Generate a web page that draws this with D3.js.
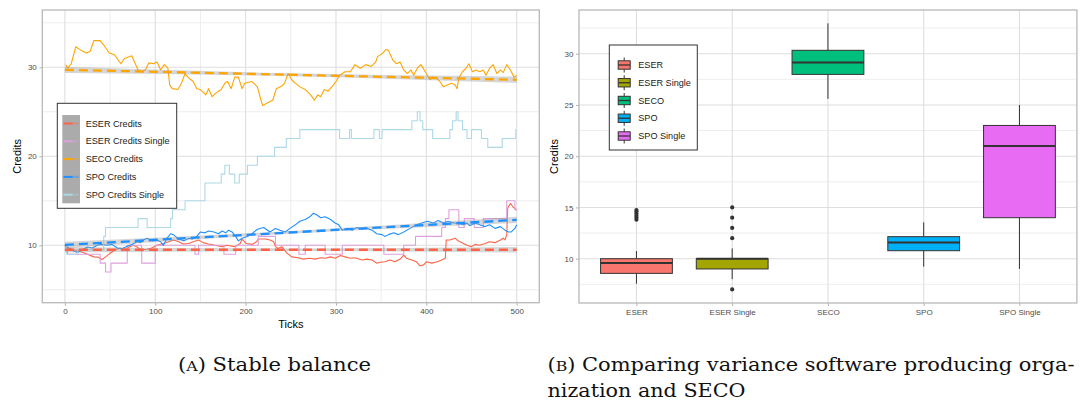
<!DOCTYPE html>
<html><head><meta charset="utf-8">
<script src="https://cdn.jsdelivr.net/npm/d3@7"></script>
<style>body{margin:0;background:#fff} svg{display:block}</style>
</head><body>
<svg id="c" width="1080" height="406"></svg>
<script>
// ---------------- DATA (panel A: time series, [tick, credits]) ----------------
const seriesNames = ["ESER Credits","ESER Credits Single","SECO Credits","SPO Credits","SPO Credits Single"];
const seriesColors = ["#FF6347","#DDA0DD","#FFA500","#1E90FF","#ADD8E6"];
const xTicksA = [0,100,200,300,400,500];
const yTicksA = [10,20,30];

const eserCredits = [[0,10.0],[4,9.7],[10,9.5],[17,9.3],[25,9.0],[32,8.7],[37,8.65],[41,8.4],[45,8.7],[50,9.1],[56,9.5],[61,9.7],[67,9.55],[71,9.8],[76,10.0],[80,9.8],[84,9.5],[91,9.55],[96,9.7],[102,10.0],[109,10.2],[115,10.4],[120,10.6],[126,10.4],[131,10.15],[137,10.2],[142,10.4],[148,10.6],[153,10.3],[159,10.15],[166,10.0],[174,9.85],[179,10.0],[188,9.85],[194,10.2],[196,10.7],[201,10.2],[207,10.1],[212,10.4],[214,10.7],[222,10.7],[227,10.6],[231,10.4],[233,9.85],[236,9.65],[240,9.85],[246,9.1],[251,8.7],[258,8.6],[264,8.45],[271,8.55],[277,8.45],[283,8.6],[288,8.55],[294,8.7],[299,8.55],[305,8.85],[310,8.7],[316,8.55],[321,8.6],[329,8.35],[334,8.45],[340,8.35],[345,8.0],[349,8.1],[354,8.15],[360,8.35],[365,8.15],[371,8.45],[375,8.9],[378,8.55],[384,8.35],[389,8.15],[393,7.7],[397,7.8],[400,8.15],[406,8.0],[412,8.15],[417,8.35],[421,8.55],[422,10.6],[426,10.6],[432,10.8],[435,10.5],[441,10.2],[445,10.0],[450,9.85],[454,10.1],[459,10.0],[465,10.2],[470,10.4],[476,10.3],[482,10.6],[485,10.8],[487,10.6],[489,11.2],[490,14.2],[493,14.7],[496,14.3],[500,13.95]];

const eserCreditsSingle = [[0,10],[3,9],[39,8],[45,7],[51,8],[69,10],[85,8],[100,10],[144,9],[148,10],[176,9],[189,10],[214,11],[233,10],[259,9],[266,10],[288,9],[307,10],[353,9],[375,10],[388,11],[417,12],[421,13],[425,14],[436,12],[442,13],[453,12],[463,13],[489,15],[498,14],[500,14]];

const secoCredits = [[1,30.3],[3,29.9],[7,30.4],[12,32.3],[18,31.9],[24,31.6],[28,31.8],[32,33.0],[39,33.0],[43,32.5],[49,31.6],[55,31.4],[62,30.4],[66,31.0],[74,31.3],[77,30.6],[81,29.7],[85,29.5],[89,29.7],[93,30.5],[98,30.4],[102,30.6],[106,29.7],[110,30.3],[114,29.9],[116,28.0],[119,27.6],[125,27.5],[129,28.2],[133,29.3],[137,28.8],[142,28.4],[146,27.6],[150,27.5],[156,26.9],[159,27.6],[163,26.7],[167,27.1],[173,27.5],[177,28.2],[180,28.4],[184,27.6],[188,28.9],[192,28.9],[196,27.6],[199,28.2],[207,28.4],[213,27.8],[217,26.3],[219,25.7],[224,26.0],[230,26.3],[234,27.6],[240,27.9],[243,28.2],[247,29.3],[251,28.6],[255,28.2],[260,27.8],[266,27.5],[272,26.9],[276,26.3],[280,26.9],[283,26.7],[287,27.5],[291,27.3],[297,28.0],[300,28.4],[304,29.1],[310,29.5],[316,29.5],[321,30.3],[327,29.9],[333,30.3],[339,30.1],[344,30.6],[346,31.2],[352,31.6],[355,32.0],[358,31.9],[363,30.8],[367,30.4],[371,30.6],[375,29.7],[379,29.3],[383,29.7],[386,29.1],[390,29.9],[394,30.3],[400,29.3],[404,28.6],[407,28.9],[411,28.8],[415,28.4],[419,27.8],[423,28.0],[428,28.2],[432,28.0],[434,27.6],[436,28.8],[440,29.5],[444,29.9],[447,30.4],[451,29.5],[455,29.7],[459,29.5],[463,29.7],[466,29.1],[470,29.9],[474,30.3],[478,29.3],[482,29.7],[485,29.4],[489,30.3],[493,29.7],[497,28.9],[500,29.1]];

const spoCredits = [[0,10.0],[6,9.5],[14,9.2],[19,9.5],[25,9.8],[30,9.7],[36,10.0],[39,10.1],[47,10.0],[52,10.1],[58,9.7],[63,9.6],[69,9.9],[74,10.1],[80,10.4],[84,10.3],[87,10.6],[91,10.8],[97,10.5],[102,10.6],[106,10.4],[109,10.0],[113,10.8],[117,11.3],[120,11.2],[126,10.7],[132,10.5],[137,10.8],[141,10.7],[146,11.0],[150,11.5],[155,11.4],[159,11.6],[165,11.5],[170,11.3],[174,11.6],[178,11.4],[181,11.7],[185,11.5],[189,11.0],[192,10.5],[196,10.8],[202,11.0],[207,11.3],[213,11.8],[220,12.0],[227,11.5],[233,11.9],[238,11.7],[244,11.5],[249,11.9],[255,12.3],[260,12.7],[266,12.9],[271,13.2],[275,13.6],[279,13.4],[283,13.1],[288,13.2],[294,12.9],[299,12.5],[303,12.3],[307,11.7],[312,11.9],[318,11.7],[323,12.0],[329,11.8],[334,11.9],[340,11.7],[345,11.3],[351,11.2],[354,11.0],[358,11.2],[364,11.4],[369,11.2],[375,11.5],[382,11.9],[389,12.3],[395,12.5],[401,12.7],[408,12.5],[413,12.8],[419,12.5],[424,12.7],[430,12.5],[435,12.5],[441,12.3],[445,12.5],[448,12.2],[454,12.5],[459,12.3],[465,12.1],[470,12.3],[476,11.9],[482,12.1],[487,11.7],[491,11.5],[494,11.5],[498,11.9],[500,12.3]];

const spoCreditsSingle = [[0,10],[2,9],[14,9.5],[43,11],[45,12],[81,13],[91,12],[117,13],[119,14],[133,15],[155,17],[173,18],[177,19],[182,18],[188,17],[193,18],[202,19],[213,20],[232,21],[245,22],[260,23],[304,22],[315,23],[317,22],[342,23],[348,22],[351,23],[384,24],[390,25],[393,24],[396,23],[407,22],[426,23],[429,24],[433,25],[435,24],[440,23],[445,22],[450,23],[461,22],[468,21],[484,22],[499,23],[500,23]];

// linear-fit trend lines: [series index, value at tick 0, value at tick 500]
const trendIndex = [0,2,3];
const trendStart = [9.5,29.72,10.05];
const trendEnd   = [9.5,28.6,12.85];
const trendSeEnd = [0.32,0.35,0.35];
const trendSeMid = [0.15,0.16,0.16];

// ---------------- DATA (panel B: boxplots) ----------------
const boxCats   = ["ESER","ESER Single","SECO","SPO","SPO Single"];
const boxColors = ["#F8766D","#A3A500","#00BF7D","#00B0F6","#E76BF3"];
const boxLow    = [7.56,8.0,25.6,9.22,9.0];
const boxQ1     = [8.57,9.0,27.98,10.78,14.0];
const boxMed    = [9.58,10.0,29.15,11.59,21.0];
const boxQ3     = [10.0,10.0,30.33,12.15,23.0];
const boxHigh   = [10.75,11.0,32.96,13.55,25.0];
const boxOutliers = [[13.8,14.0,14.2,14.4,14.6,14.75],[15,14,13,12,7],[],[],[]];
const yTicksB = [10,15,20,25,30];

// ---------------- DRAWING ----------------
const svg = d3.select('#c');
const SANS = "'Liberation Sans', Arial, Helvetica, sans-serif";
const SERIF = "'DejaVu Serif', serif";
svg.append('rect').attr('width',1080).attr('height',406).attr('fill','#fff');

function grid(g, P, xs, xsMinor, ys, ysMinor, xScale, yScale){
  g.append('rect').attr('x',P.x0).attr('y',P.y0).attr('width',P.x1-P.x0).attr('height',P.y1-P.y0).attr('fill','#fff');
  g.selectAll('.hmin').data(ysMinor).join('line').attr('x1',P.x0).attr('x2',P.x1)
    .attr('y1',d=>yScale(d)).attr('y2',d=>yScale(d)).attr('stroke','#ebebeb').attr('stroke-width',0.9);
  g.selectAll('.vmin').data(xsMinor).join('line').attr('y1',P.y0).attr('y2',P.y1)
    .attr('x1',d=>xScale(d)).attr('x2',d=>xScale(d)).attr('stroke','#ebebeb').attr('stroke-width',0.9);
  g.selectAll('.hmaj').data(ys).join('line').attr('x1',P.x0).attr('x2',P.x1)
    .attr('y1',d=>yScale(d)).attr('y2',d=>yScale(d)).attr('stroke','#dedede').attr('stroke-width',1.1);
  g.selectAll('.vmaj').data(xs).join('line').attr('y1',P.y0).attr('y2',P.y1)
    .attr('x1',d=>xScale(d)).attr('x2',d=>xScale(d)).attr('stroke','#dedede').attr('stroke-width',1.1);
}
function axes(g, P, xs, ys, xScale, yScale, xFmt){
  const xa = g.append('g').attr('transform',`translate(0,${P.y1})`)
    .call(d3.axisBottom(xScale).tickValues(xs).tickSize(3).tickPadding(3).tickFormat(xFmt));
  const ya = g.append('g').attr('transform',`translate(${P.x0},0)`)
    .call(d3.axisLeft(yScale).tickValues(ys).tickSize(3).tickPadding(2.5));
  [xa,ya].forEach(a=>{
    a.select('.domain').remove();
    a.selectAll('line').attr('stroke','#b3b3b3').attr('stroke-width',1);
    a.selectAll('text').attr('fill','#4d4d4d').style('font-family',SANS).style('font-size','8px');
  });
  g.append('rect').attr('x',P.x0).attr('y',P.y0).attr('width',P.x1-P.x0).attr('height',P.y1-P.y0)
    .attr('fill','none').attr('stroke','#b8b8b8').attr('stroke-width',1.3);
}

// ---- Panel A ----
const A = {x0:42.3, x1:539.3, y0:10, y1:302.7};
const xA = d3.scaleLinear().domain([-25,525]).range([A.x0,A.x1]);
const yA = d3.scaleLinear().domain([3.551,36.438]).range([A.y1,A.y0]);
const gA = svg.append('g');
grid(gA, A, xTicksA, [50,150,250,350,450], yTicksA, [5,15,25,35], xA, yA);

svg.append('clipPath').attr('id','clipA').append('rect')
  .attr('x',A.x0).attr('y',A.y0).attr('width',A.x1-A.x0).attr('height',A.y1-A.y0);
const plotA = gA.append('g').attr('clip-path','url(#clipA)');

const seriesData = [eserCredits, eserCreditsSingle, secoCredits, spoCredits, spoCreditsSingle];
const stepped = [false,true,false,false,true];
seriesData.forEach((s,i)=>{
  const line = d3.line().x(d=>xA(d[0])).y(d=>yA(d[1])).curve(stepped[i]?d3.curveStepAfter:d3.curveLinear);
  plotA.append('path').datum(s).attr('d',line).attr('fill','none')
    .attr('stroke',seriesColors[i]).attr('stroke-width',1.1).attr('stroke-linejoin','round');
});
// trend ribbons + dashed fits
trendIndex.forEach((si,k)=>{
  const pts = [0,250,500].map(t=>{
    const v = trendStart[k] + (trendEnd[k]-trendStart[k])*t/500;
    const se = t===250 ? trendSeMid[k] : trendSeEnd[k];
    return {t, v, se};
  });
  const area = d3.area().x(d=>xA(d.t)).y0(d=>yA(d.v-d.se)).y1(d=>yA(d.v+d.se)).curve(d3.curveMonotoneX);
  plotA.append('path').datum(pts).attr('d',area).attr('fill','#999').attr('fill-opacity',0.4);
});
trendIndex.forEach((si,k)=>{
  plotA.append('line').attr('x1',xA(0)).attr('x2',xA(500))
    .attr('y1',yA(trendStart[k])).attr('y2',yA(trendEnd[k]))
    .attr('stroke',seriesColors[si]).attr('stroke-width',2.3).attr('stroke-dasharray','9,5');
});
axes(gA, A, xTicksA, yTicksA, xA, yA, d3.format('d'));
gA.append('text').attr('x',(A.x0+A.x1)/2).attr('y',324).attr('dy','0.35em').attr('text-anchor','middle')
  .style('font-family',SANS).style('font-size','11px').text('Ticks');
gA.append('text').attr('transform',`translate(17.5,${(A.y0+A.y1)/2}) rotate(-90)`).attr('dy','0.35em')
  .attr('text-anchor','middle').style('font-family',SANS).style('font-size','11px').text('Credits');

// legend A
const legA = gA.append('g');
legA.append('rect').attr('x',57.3).attr('y',103.3).attr('width',119.4).attr('height',105)
  .attr('fill','#fff').attr('stroke','#333').attr('stroke-width',1);
legA.append('rect').attr('x',62.3).attr('y',115).attr('width',17.7).attr('height',88.3).attr('fill','#ababab');
seriesNames.forEach((n,i)=>{
  const y = 123.5 + i*17.8;
  legA.append('line').attr('x1',63.5).attr('x2',72.7).attr('y1',y).attr('y2',y)
    .attr('stroke',seriesColors[i]).attr('stroke-width',2);
  legA.append('line').attr('x1',72.7).attr('x2',78.8).attr('y1',y).attr('y2',y)
    .attr('stroke',seriesColors[i]).attr('stroke-opacity',0.35).attr('stroke-width',2);
  legA.append('text').attr('x',85.7).attr('y',y).attr('dy','0.35em')
    .style('font-family',SANS).style('font-size','9.1px').attr('fill','#1a1a1a').text(n);
});

// ---- Panel B ----
const B = {x0:579, x1:1076.9, y0:10, y1:303};
const xB = d3.scalePoint().domain(boxCats).range([B.x0,B.x1]).padding(0.6);
const yB = d3.scaleLinear().domain([5.678,34.263]).range([B.y1,B.y0]);
const gB = svg.append('g');
grid(gB, B, boxCats, [], yTicksB, [7.5,12.5,17.5,22.5,27.5,32.5], xB, yB);
const bw = xB.step()*0.75;
boxCats.forEach((c,i)=>{
  const cx = xB(c);
  const g = gB.append('g');
  g.append('line').attr('x1',cx).attr('x2',cx).attr('y1',yB(boxHigh[i])).attr('y2',yB(boxQ3[i]))
    .attr('stroke','#333').attr('stroke-width',1);
  g.append('line').attr('x1',cx).attr('x2',cx).attr('y1',yB(boxQ1[i])).attr('y2',yB(boxLow[i]))
    .attr('stroke','#333').attr('stroke-width',1);
  g.append('rect').attr('x',cx-bw/2).attr('width',bw).attr('y',yB(boxQ3[i]))
    .attr('height',Math.max(0.5,yB(boxQ1[i])-yB(boxQ3[i])))
    .attr('fill',boxColors[i]).attr('stroke','#333').attr('stroke-width',1);
  g.append('line').attr('x1',cx-bw/2).attr('x2',cx+bw/2).attr('y1',yB(boxMed[i])).attr('y2',yB(boxMed[i]))
    .attr('stroke','#333').attr('stroke-width',2);
  g.selectAll('circle').data(boxOutliers[i]).join('circle').attr('cx',cx).attr('cy',d=>yB(d))
    .attr('r',2.1).attr('fill','#333');
});
axes(gB, B, boxCats, yTicksB, xB, yB, d=>d);
gB.append('text').attr('transform',`translate(554.5,${(B.y0+B.y1)/2}) rotate(-90)`).attr('dy','0.35em')
  .attr('text-anchor','middle').style('font-family',SANS).style('font-size','11px').text('Credits');

// legend B
const legB = gB.append('g');
legB.append('rect').attr('x',609.3).attr('y',45).attr('width',88).attr('height',105)
  .attr('fill','#fff').attr('stroke','#333').attr('stroke-width',1);
boxCats.forEach((c,i)=>{
  const y = 65 + i*17.75;
  legB.append('line').attr('x1',624.2).attr('x2',624.2).attr('y1',y-7.5).attr('y2',y+7.5)
    .attr('stroke','#333').attr('stroke-width',1);
  legB.append('rect').attr('x',618.2).attr('y',y-4.2).attr('width',12).attr('height',8.4)
    .attr('fill',boxColors[i]).attr('stroke','#333').attr('stroke-width',1);
  legB.append('line').attr('x1',618.2).attr('x2',630.2).attr('y1',y).attr('y2',y)
    .attr('stroke','#333').attr('stroke-width',1.3);
  legB.append('text').attr('x',638.3).attr('y',y).attr('dy','0.35em')
    .style('font-family',SANS).style('font-size','9.1px').attr('fill','#1a1a1a').text(c);
});

// ---- Captions ----
function caption(x, y, label, rest, len){
  const t = svg.append('text').attr('x',x).attr('y',y).style('font-family',SERIF).style('font-size','18px')
    .attr('fill','#111');
  if(label){
    t.append('tspan').text('(');
    t.append('tspan').style('font-size','13.5px').text(label);
    t.append('tspan').text(') ' + rest);
  } else t.append('tspan').text(rest);
  t.attr('textLength',len).attr('lengthAdjust','spacingAndGlyphs');
}
caption(178, 371, 'A', 'Stable balance', 193);
caption(547.5, 371, 'B', 'Comparing variance software producing orga-', 527);
caption(547.5, 397, null, 'nization and SECO', 198);
</script>
</body></html>
